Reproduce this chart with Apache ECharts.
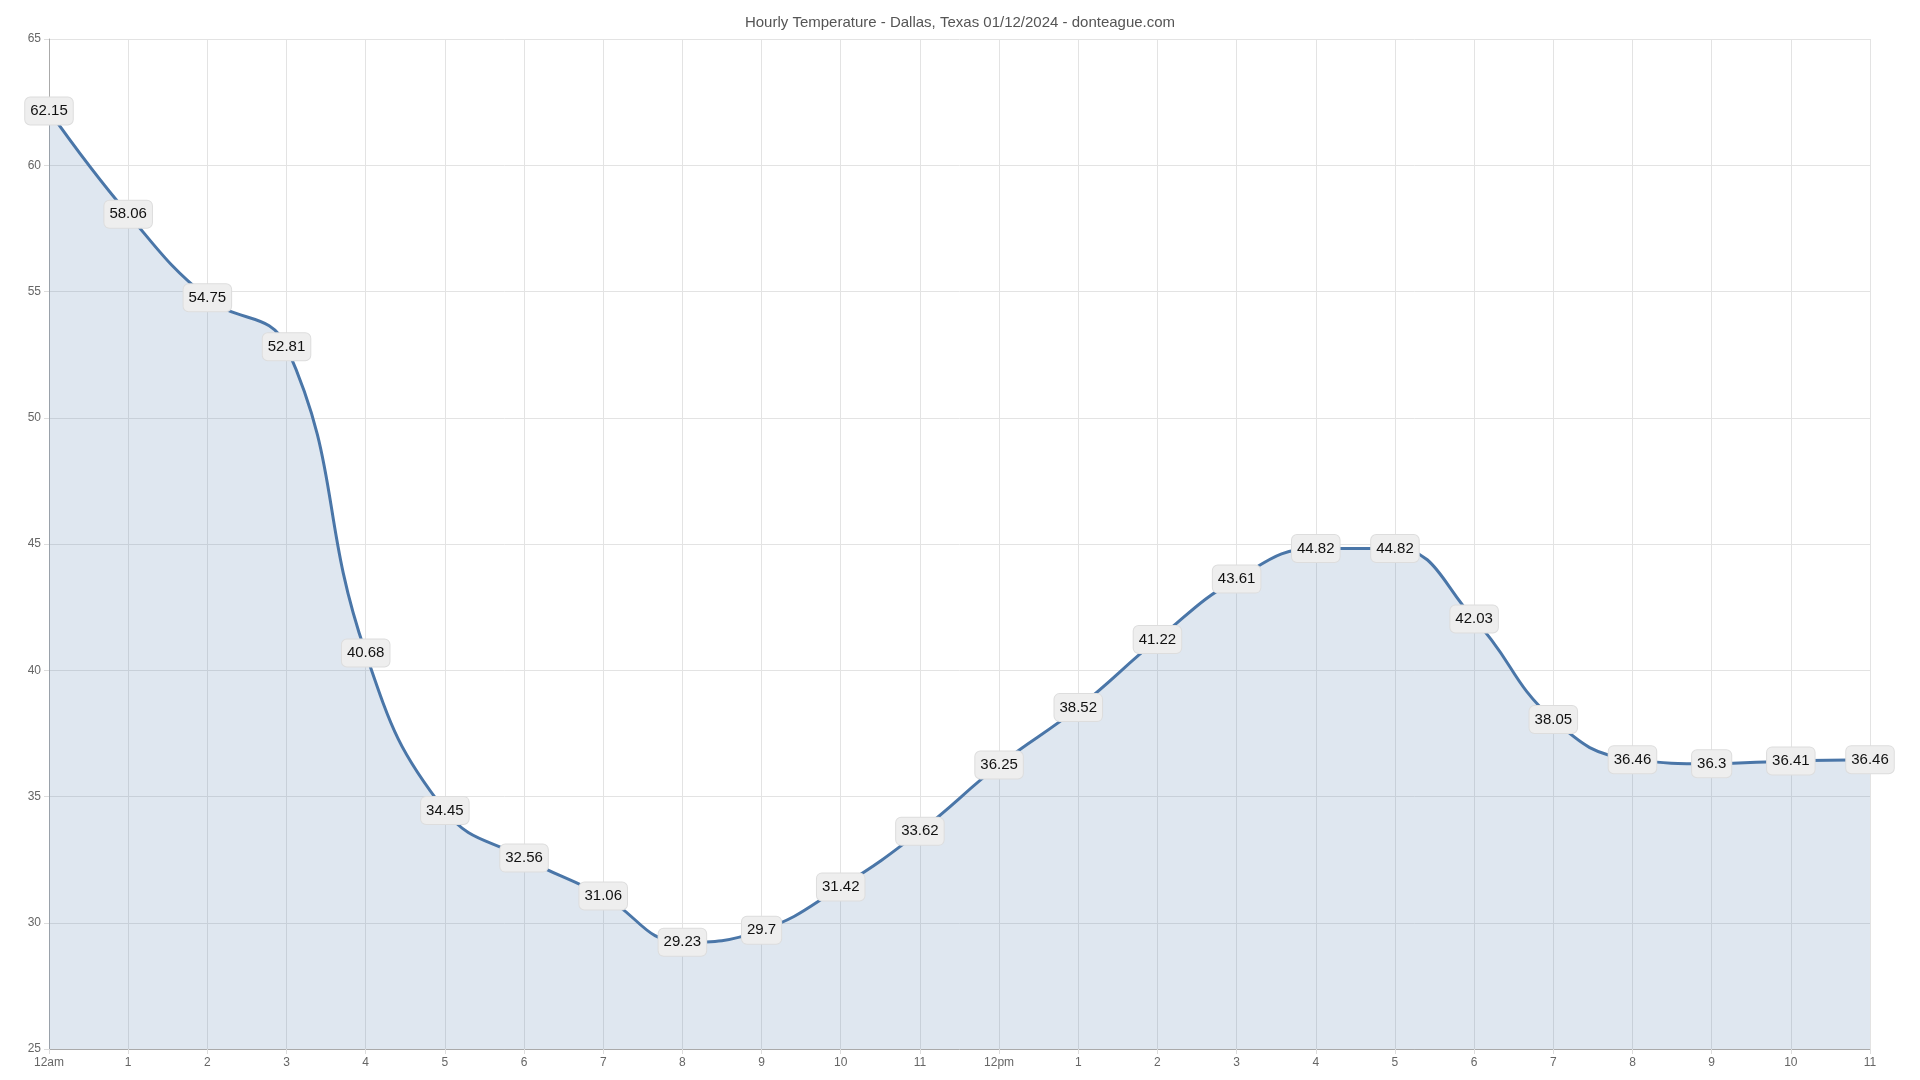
<!DOCTYPE html>
<html>
<head>
<meta charset="utf-8">
<script src="https://cdn.jsdelivr.net/npm/echarts@6/dist/echarts.min.js"></script>
<style>html,body{margin:0;padding:0;background:#fff}#c{width:1920px;height:1080px}</style>
</head>
<body>
<div id="c"></div>
<script>
const titleText = 'Hourly Temperature - Dallas, Texas 01/12/2024 - donteague.com';
const hours = ['12am','1','2','3','4','5','6','7','8','9','10','11','12pm','1','2','3','4','5','6','7','8','9','10','11'];
const temps = [62.15,58.06,54.75,52.81,40.68,34.45,32.56,31.06,29.23,29.7,31.42,33.62,36.25,38.52,41.22,43.61,44.82,44.82,42.03,38.05,36.46,36.3,36.41,36.46];
const yMin = 25, yMax = 65, yStep = 5;

const chart = echarts.init(document.getElementById('c'));
chart.setOption({
  animation: false,
  backgroundColor: '#fff',
  title: {
    text: titleText, left: 'center', top: 10,
    textStyle: { fontFamily: 'Liberation Sans, Arial, sans-serif', fontSize: 15, fontWeight: 'normal', color: '#555' }
  },
  grid: { left: 49, right: 50, top: 39, bottom: 31, containLabel: false },
  xAxis: {
    type: 'category', data: hours, boundaryGap: false,
    axisLine: { show: true, lineStyle: { color: '#aaa', width: 1 } },
    axisTick: { show: true, length: 5, alignWithLabel: true, lineStyle: { color: '#ddd' } },
    axisLabel: { color: '#666', fontSize: 12, fontFamily: 'Liberation Sans, Arial, sans-serif', margin: 8, interval: 0 },
    splitLine: { show: true, lineStyle: { color: '#e3e3e3', width: 1 } }
  },
  yAxis: {
    type: 'value', min: yMin, max: yMax, interval: yStep,
    axisLine: { show: true, lineStyle: { color: '#aaa', width: 1 } },
    axisTick: { show: true, length: 5, lineStyle: { color: '#ddd' } },
    axisLabel: { color: '#666', fontSize: 12, fontFamily: 'Liberation Sans, Arial, sans-serif', margin: 8 },
    splitLine: { show: true, lineStyle: { color: '#e3e3e3', width: 1 } }
  },
  series: [{
    type: 'line', data: temps, smooth: 0.45,
    symbol: 'circle', symbolSize: 0.1, showSymbol: true,
    lineStyle: { color: '#4a76a8', width: 3 },
    itemStyle: { color: '#4a76a8' },
    areaStyle: { color: 'rgba(74,118,168,0.25)' },
    label: {
      show: true, position: 'inside',
      color: '#111', fontSize: 15, fontFamily: 'Liberation Sans, Arial, sans-serif',
      backgroundColor: '#eeeeee', borderColor: '#dddddd', borderWidth: 1, borderRadius: 5,
      padding: [6, 5]
    }
  }]
});
</script>
</body>
</html>
